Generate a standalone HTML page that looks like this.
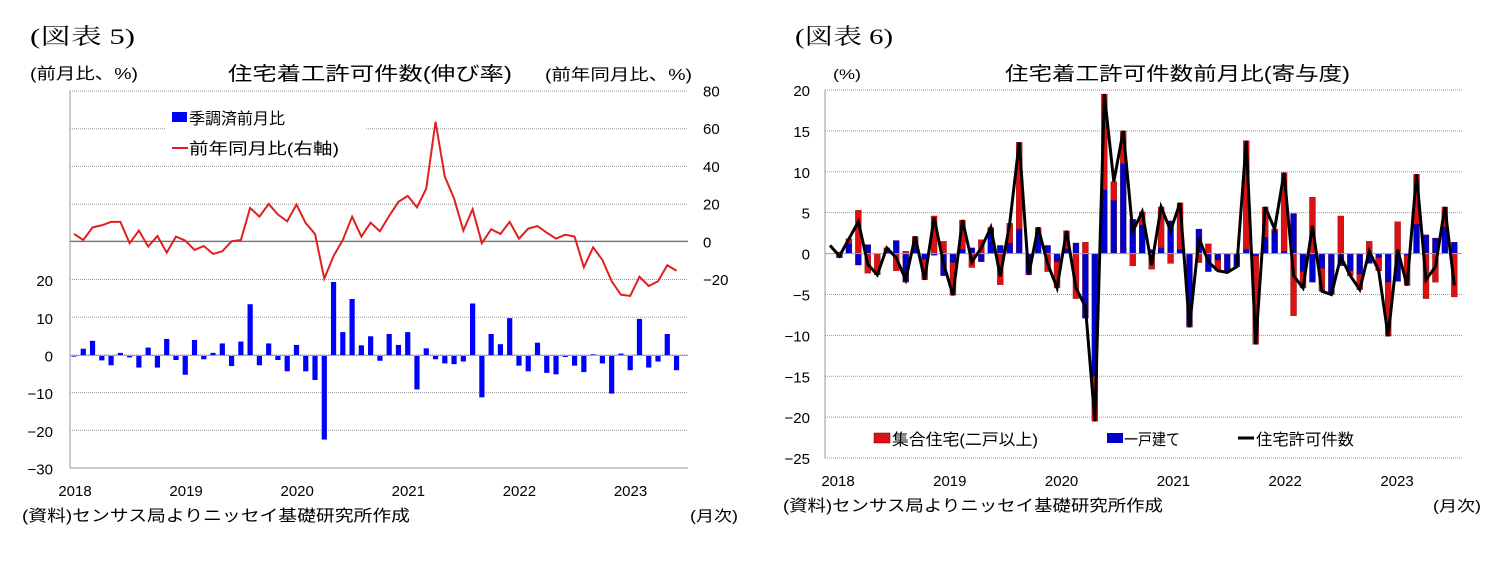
<!DOCTYPE html>
<html><head><meta charset="utf-8"><style>
html,body{margin:0;padding:0;background:#fff;width:1499px;height:561px;overflow:hidden}
svg{display:block}
text{font-family:"Liberation Sans","Noto Sans CJK JP",sans-serif;fill:#000}
.s{font-family:"Liberation Serif","Noto Serif CJK SC",serif}
</style></head><body>
<svg id="c" width="1499" height="561" xmlns="http://www.w3.org/2000/svg"></svg>
<script>
(function(){
const NS="http://www.w3.org/2000/svg",svg=document.getElementById('c');
function el(t,a,txt){const e=document.createElementNS(NS,t);for(const k in a)e.setAttribute(k,a[k]);if(txt!=null)e.textContent=txt;svg.appendChild(e);return e;}
function tx(x,y,s,sz,o){o=o||{};const a={x:x,y:y,'font-size':sz};if(o.a)a['text-anchor']=o.a;if(o.l){a.textLength=o.l;a.lengthAdjust='spacingAndGlyphs';}if(o.c)a['class']=o.c;return el('text',a,s);}
// ---------- LEFT ----------
const L=[-0.3,1.8,3.9,-1.3,-2.6,0.7,-0.5,-3.2,2.1,-3.2,4.4,-1.2,-5.1,4.1,-1,0.7,3.2,-2.8,3.7,13.6,-2.6,3.2,-1.2,-4.2,2.8,-4.2,-6.5,-22.3,19.5,6.2,15,2.7,5.1,-1.4,5.7,2.8,6.2,-9,1.9,-1,-2.1,-2.3,-1.6,13.8,-11.1,5.7,3,9.9,-2.7,-4.2,3.4,-4.6,-5,-0.4,-2.7,-4.4,0.3,-2.1,-10.1,0.5,-3.9,9.7,-3.2,-1.6,5.7,-3.9];
const Y=[3.9,0.7,7.4,8.5,10.3,10.3,-1,5.7,-2.8,2.8,-6,2.5,0.4,-4.6,-2.5,-6.7,-5.3,0,0.7,17.7,13.1,19.8,14.2,10.6,19.5,9.6,3.9,-19.8,-7.8,0.7,13.1,2.5,9.9,5.3,13.5,20.9,24.1,18,28,63.4,34.3,22.7,5.7,17,-1,6.4,3.9,10.3,1.4,6.7,8.1,4.6,1.4,3.5,2.5,-13.8,-3.2,-9.9,-21.2,-28.3,-29,-18.8,-23.7,-21.2,-12.7,-15.6];
const lx0=70,lx1=688,ltop=91,lbot=468,st=(lbot-ltop)/10;
for(let i=0;i<=10;i++){const y=ltop+i*st;el('line',{x1:lx0,x2:lx1,y1:y,y2:y,stroke:'#999','stroke-width':1,'stroke-dasharray':'1,1'});}
el('line',{x1:lx0,x2:lx0,y1:ltop,y2:lbot,stroke:'#999'});
el('line',{x1:lx0,x2:lx1,y1:lbot,y2:lbot,stroke:'#999'});
el('line',{x1:lx0,x2:lx1,y1:241.3,y2:241.3,stroke:'#555'});
const ly=v=>355.5-v*3.77, ry=v=>241.3-v*1.885, mx=i=>74+i*9.27;
el('rect',{x:165,y:104,width:200,height:56,fill:'#fff'});
L.forEach((v,i)=>{const y0=ly(0),y1=ly(v);el('rect',{x:mx(i)-2.6,y:Math.min(y0,y1),width:5.2,height:Math.max(Math.abs(y1-y0),0.8),fill:'#0000ff'});});
el('line',{x1:lx0,x2:lx1,y1:355.5,y2:355.5,stroke:'#a0a0e0'});
el('polyline',{points:Y.map((v,i)=>mx(i)+','+ry(v)).join(' '),fill:'none',stroke:'#e02020','stroke-width':2});
el('rect',{x:172,y:112,width:15,height:10,fill:'#0000ff'});
tx(189,124,'季調済前月比',16,{l:96});
el('line',{x1:172,x2:188,y1:148,y2:148,stroke:'#e02020','stroke-width':2});
tx(189,154,'前年同月比(右軸)',16,{l:150});
[20,10,0,-10,-20,-30].forEach(v=>tx(53,ly(v)+6,String(v).replace('-','−'),15,{a:'end'}));
[80,60,40,20,0,-20].forEach(v=>tx(703,ry(v)+6,String(v).replace('-','−'),15));
['2018','2019','2020','2021','2022','2023'].forEach((s,k)=>tx(75+k*111.1,496,s,15,{a:'middle'}));
tx(30,44,'(図表 5)',22,{c:'s',l:105});
tx(30,79,'(前月比、%)',16,{l:108});
tx(228,80,'住宅着工許可件数(伸び率)',19,{l:284});
tx(545,80,'(前年同月比、%)',16,{l:147});
tx(22,521,'(資料)センサス局よりニッセイ基礎研究所作成',16,{l:388});
tx(690,521,'(月次)',15,{l:48});
// ---------- RIGHT ----------
const T=[1,-0.3,1.8,3.9,-1.3,-2.6,0.7,-0.5,-3.2,2.1,-3.2,4.4,-1.2,-5.1,4.1,-1,0.7,3.2,-2.8,3.7,13.6,-2.6,3.2,-1.2,-4.2,2.8,-4.2,-6.5,-20.5,19.5,8.8,15,2.7,5.1,-1.4,5.7,2.8,6.2,-9,1.9,-1,-2.1,-2.3,-1.6,13.8,-11.1,5.7,3,9.9,-2.7,-4.2,3.4,-4.6,-5,-0.4,-2.7,-4.4,0.3,-2.1,-10.1,0.5,-3.9,9.7,-3.2,-1.6,5.7,-3.9];
const B=[0,-0.5,1.2,-1.4,1.1,0,0.3,1.6,-3.5,1.2,-0.7,-0.2,-2.7,-1.1,0.5,0.7,-1,3,1,1.3,3,-2.4,2.5,1,-1,0.6,1.3,-7.9,-15,7.8,6.5,11,4.2,3.5,0.5,0.7,4,0.5,-8.9,3,-2.2,-0.8,-2.1,-1.6,0.5,-0.3,2,2.8,0.3,4.9,-2.2,-3.5,-1.8,-4.9,-1.5,-2.1,-2.5,-1.2,-0.5,-3.5,-3.4,-0.2,3.6,2.3,1.9,3.3,1.4];
const R=T.map((t,i)=>t-B[i]);
R[54]=4.6;
const rx0=825,rx1=1462,rtop=90,rbot=458,rs=(rbot-rtop)/9;
for(let i=0;i<=9;i++){const y=rtop+i*rs;el('line',{x1:rx0,x2:rx1,y1:y,y2:y,stroke:'#999','stroke-width':1,'stroke-dasharray':'1,1'});}
el('line',{x1:rx0,x2:rx0,y1:rtop,y2:rbot,stroke:'#999'});
const zy=v=>253.6-v*8.18, nx=i=>830+i*9.46;
T.forEach((t,i)=>{if(i==0)return;const b=B[i],r=R[i];let pos=0,neg=0;
 [[b,'#0000cc'],[r,'#dd1111']].forEach(([v,c])=>{let a,z;if(v>=0){a=pos;pos+=v;z=pos;}else{a=neg;neg+=v;z=neg;}
 const y0=zy(a),y1=zy(z);el('rect',{x:nx(i)-3,y:Math.min(y0,y1),width:6,height:Math.abs(y1-y0),fill:c,stroke:'#600','stroke-width':0.3});});});
el('line',{x1:rx0,x2:rx1,y1:253.6,y2:253.6,stroke:'#a0a0e0'});
el('polyline',{points:T.map((v,i)=>nx(i)+','+zy(v)).join(' '),fill:'none',stroke:'#000','stroke-width':3});
[20,15,10,5,0,-5,-10,-15,-20,-25].forEach(v=>tx(810,zy(v)+6,String(v).replace('-','−'),15,{a:'end'}));
['2018','2019','2020','2021','2022','2023'].forEach((s,k)=>tx(838+k*111.8,486,s,15,{a:'middle'}));
el('rect',{x:870,y:430,width:300,height:18,fill:'#fff'});
el('rect',{x:874,y:433,width:16,height:10,fill:'#dd1111',stroke:'#600','stroke-width':0.5});
tx(892,445,'集合住宅(二戸以上)',16,{l:146});
el('rect',{x:1107,y:433,width:16,height:10,fill:'#0000cc'});
tx(1124,445,'一戸建て',16,{l:56});
el('line',{x1:1238,x2:1254,y1:438,y2:438,stroke:'#000','stroke-width':3});
tx(1256,445,'住宅許可件数',16,{l:98});
tx(795,44,'(図表 6)',22,{c:'s',l:98});
tx(833,79,'(%)',14,{l:28});
tx(1005,80,'住宅着工許可件数前月比(寄与度)',19,{l:345});
tx(783,511,'(資料)センサス局よりニッセイ基礎研究所作成',16,{l:380});
tx(1433,511,'(月次)',15,{l:48});
})();
</script>
</body></html>
